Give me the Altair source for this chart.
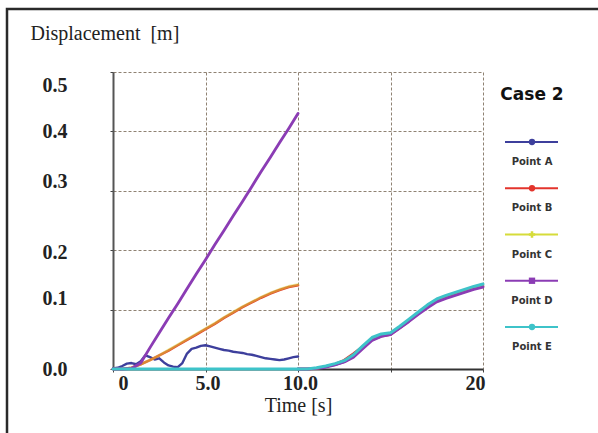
import altair as alt
import pandas as pd

series_names = ["Point A", "Point B", "Point C", "Point D", "Point E"]
series_colors = ["#3d3f9c", "#e3342c", "#d6dc3a", "#8b3cb4", "#3ec3c9"]
series_shapes = ["circle", "circle", "cross", "square", "circle"]
series_widths = [2.4, 3.0, 2.0, 2.6, 2.6]

# segment 1 (0-10 s)
t_seg1 = [0, 0.5, 1, 1.5, 2, 2.5, 3, 3.5, 4, 4.5, 5, 5.5, 6, 6.5, 7, 7.5, 8, 8.5, 9, 9.5, 10]
t_seg1_fine = [0, 0.25, 0.5, 0.75, 1, 1.25, 1.5, 1.75, 2, 2.25, 2.5, 2.75, 3, 3.25, 3.5, 3.75,
               4, 4.25, 4.5, 4.75, 5, 5.25, 5.5, 5.75, 6, 6.25, 6.5, 6.75, 7, 7.25, 7.5, 7.75,
               8, 8.25, 8.5, 8.75, 9, 9.25, 9.5, 9.75, 10]
a_seg1 = [0.001, 0.002, 0.005, 0.009, 0.010, 0.008, 0.013, 0.023, 0.020, 0.016, 0.018, 0.011,
          0.006, 0.004, 0.003, 0.010, 0.026, 0.034, 0.036, 0.039, 0.040, 0.038, 0.036, 0.034,
          0.032, 0.031, 0.029, 0.028, 0.027, 0.025, 0.024, 0.022, 0.020, 0.018, 0.017, 0.016,
          0.015, 0.016, 0.018, 0.020, 0.021]
b_seg1 = [0, 0, 0.002, 0.008, 0.015, 0.023, 0.031, 0.040, 0.049, 0.058, 0.067, 0.076, 0.086,
          0.095, 0.104, 0.112, 0.120, 0.127, 0.133, 0.138, 0.141]
c_seg1 = [0, 0, 0.002, 0.008, 0.015, 0.023, 0.032, 0.041, 0.050, 0.059, 0.068, 0.077, 0.087,
          0.096, 0.105, 0.113, 0.121, 0.128, 0.134, 0.139, 0.142]
d_seg1 = [0, 0, 0.001, 0.010, 0.036, 0.061, 0.086, 0.110, 0.135, 0.160, 0.184, 0.209, 0.233,
          0.258, 0.282, 0.307, 0.332, 0.356, 0.381, 0.405, 0.430]
e_seg1 = [0, 0, 0, 0, 0, 0, 0, 0, 0, 0, 0, 0, 0, 0, 0, 0, 0, 0, 0, 0, 0]

# segment 2 (10-20 s)
t_seg2 = [10, 10.5, 11, 11.5, 12, 12.5, 13, 13.5, 14, 14.5, 15, 15.5, 16, 16.5, 17, 17.5, 18,
          18.5, 19, 19.5, 20]
a_seg2 = [0.000, 0.000, 0.001, 0.004, 0.007, 0.012, 0.021, 0.036, 0.050, 0.057, 0.059, 0.070,
          0.082, 0.094, 0.106, 0.116, 0.122, 0.127, 0.132, 0.137, 0.141]
b_seg2 = [0.000, 0.000, 0.001, 0.004, 0.008, 0.015, 0.026, 0.038, 0.049, 0.055, 0.058, 0.069,
          0.081, 0.093, 0.104, 0.114, 0.120, 0.125, 0.130, 0.135, 0.139]
c_seg2 = [0.000, 0.000, 0.001, 0.004, 0.008, 0.013, 0.022, 0.036, 0.050, 0.056, 0.059, 0.070,
          0.082, 0.094, 0.105, 0.115, 0.121, 0.126, 0.131, 0.136, 0.140]
d_seg2 = [0.000, 0.000, 0.001, 0.003, 0.007, 0.012, 0.020, 0.034, 0.048, 0.055, 0.058, 0.069,
          0.080, 0.092, 0.103, 0.113, 0.119, 0.124, 0.129, 0.134, 0.138]
e_seg2 = [0.000, 0.000, 0.002, 0.005, 0.009, 0.014, 0.024, 0.039, 0.053, 0.059, 0.061, 0.072,
          0.084, 0.096, 0.108, 0.118, 0.124, 0.129, 0.134, 0.139, 0.143]

y_ticks = [0, 0.1, 0.2, 0.3, 0.4, 0.5]
x_ticks = [0, 5, 10, 15, 20]

rows = []
seg1 = [(t_seg1_fine, a_seg1), (t_seg1, b_seg1), (t_seg1, c_seg1), (t_seg1, d_seg1), (t_seg1, e_seg1)]
seg2 = [a_seg2, b_seg2, c_seg2, d_seg2, e_seg2]
for name, (ts, vs), vs2 in zip(series_names, seg1, seg2):
    for t, v in zip(ts, vs):
        rows.append({"series": name, "seg": name + "-1", "t": t, "v": v})
    for t, v in zip(t_seg2, vs2):
        rows.append({"series": name, "seg": name + "-2", "t": t, "v": v})
df = pd.DataFrame(rows)

color_scale = alt.Scale(domain=series_names, range=series_colors)
width_scale = alt.Scale(domain=series_names, range=series_widths)
grid_color = "#8f8273"

y_offset_expr = ("abs(datum.value-0.5)<0.001 ? 13 : abs(datum.value-0.3)<0.001 ? -9 : "
                 "abs(datum.value-0.1)<0.001 ? -11 : abs(datum.value-0.2)<0.001 ? 2 : 0")

x_enc = alt.X("t:Q", scale=alt.Scale(domain=[0, 20], nice=False),
              axis=alt.Axis(values=x_ticks,
                            labelExpr="datum.value==0?'0':datum.value==5?'5.0':datum.value==10?'10.0':datum.value==20?'20':''",
                            labelFont="Liberation Serif", labelFontSize=20, labelFontWeight="bold",
                            labelColor="#222", labelPadding=1, tickSize=3, tickColor="#444",
                            labelOffset={"condition": {"test": "datum.value==0", "value": 5}, "value": 2},
                            domainColor="#333", domainWidth=2,
                            gridColor=grid_color, gridDash=[3, 2], gridWidth=1,
                            title="Time [s]", titleFont="Liberation Serif", titleFontSize=20,
                            titleFontWeight="normal", titleColor="#222", titleY=36,
                            titleBaseline="middle"))
y_enc = alt.Y("v:Q", scale=alt.Scale(domain=[0, 0.5], nice=False),
              axis=alt.Axis(values=y_ticks, format=".1f",
                            labelFont="Liberation Serif", labelFontSize=20, labelFontWeight="bold",
                            labelColor="#222", labelPadding=43, tickSize=3, tickColor="#444",
                            labelOffset={"condition": {"test": "false", "value": 0}, "expr": y_offset_expr},
                            domainColor="#555", domainWidth=2,
                            gridColor=grid_color, gridDash=[3, 2], gridWidth=1,
                            title="Displacement\u00a0 [m]", titleFont="Liberation Serif",
                            titleFontSize=20, titleFontWeight="normal", titleColor="#222",
                            titleAngle=0, titleAlign="left", titleBaseline="middle",
                            titleX=-83, titleY=-39))

base = alt.Chart(df).encode(
    x=x_enc, y=y_enc,
    color=alt.Color("series:N", scale=color_scale, legend=None),
    size=alt.Size("series:N", scale=width_scale, legend=None),
    detail="seg:N",
)
lines_ab = base.transform_filter(
    "datum.series=='Point A' || datum.series=='Point B'"
).mark_line(strokeJoin="round", strokeCap="round")
lines_c = base.transform_filter("datum.series=='Point C'").mark_line(
    strokeJoin="round", strokeCap="round", opacity=0.5)
lines_de = base.transform_filter(
    "datum.series=='Point D' || datum.series=='Point E'"
).mark_line(strokeJoin="round", strokeCap="round")
lines = alt.layer(lines_ab, lines_c, lines_de)

leg_df = pd.DataFrame({"series": series_names})
leg_y = alt.Y("series:N", scale=alt.Scale(type="point", domain=series_names, range=[70, 255], padding=0),
              axis=None)

leg_rule = alt.Chart(leg_df).mark_rule(strokeWidth=2.2).encode(
    x=alt.value(392), x2=alt.value(445), y=leg_y,
    color=alt.Color("series:N", scale=color_scale, legend=None),
)
leg_pt = alt.Chart(leg_df).mark_point(filled=True, opacity=1, size=40).encode(
    x=alt.value(419), y=leg_y,
    color=alt.Color("series:N", scale=color_scale, legend=None),
    shape=alt.Shape("series:N", scale=alt.Scale(domain=series_names, range=series_shapes), legend=None),
)
leg_txt = alt.Chart(leg_df).mark_text(font="DejaVu Sans", fontSize=10, fontWeight="bold",
                                      color="#333", dy=20, align="center", baseline="middle").encode(
    x=alt.value(419), y=leg_y, text="series:N",
)
legend = alt.layer(leg_rule, leg_pt, leg_txt)

case_txt = alt.Chart(pd.DataFrame({"label": ["Case 2"]})).mark_text(
    font="DejaVu Sans", fontSize=17, fontWeight="bold", color="#111", align="center", baseline="middle"
).encode(x=alt.value(419), y=alt.value(23), text="label:N")

frame = alt.Chart(pd.DataFrame({"a": [0]})).mark_rect(
    fillOpacity=0, stroke="#2a2a2a", strokeWidth=2.5
).encode(x=alt.value(-106), x2=alt.value(500), y=alt.value(-63), y2=alt.value(380))

chart = alt.layer(frame, lines, legend, case_txt).resolve_scale(
    y="independent"
).properties(
    width=370, height=297,
    padding={"left": 113, "top": 72, "right": 115, "bottom": 64},
    autosize=alt.AutoSizeParams(type="none"),
    background="white",
).configure_view(stroke=None)

chart.save("out.html", embed_options={"renderer": "svg", "actions": False})
